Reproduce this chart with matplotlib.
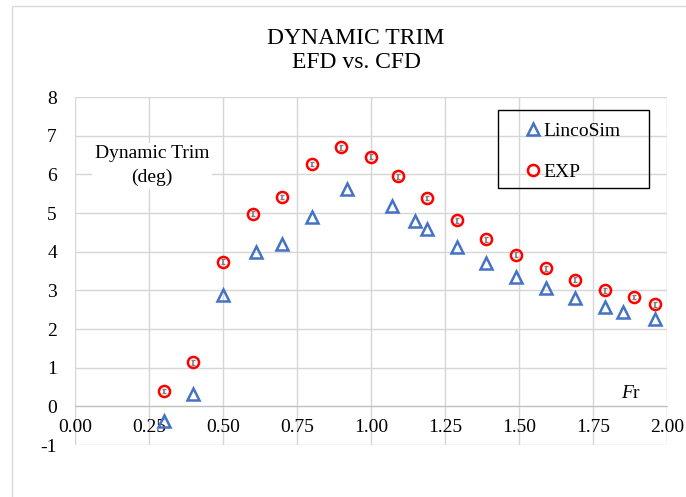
import matplotlib
matplotlib.use("Agg")
import matplotlib.pyplot as plt
from matplotlib.patches import Rectangle

plt.rcParams['font.family'] = ['Liberation Serif', 'DejaVu Serif']
plt.rcParams['axes.unicode_minus'] = False

# LincoSim (CFD) dynamic trim
cfd_fr = [0.30, 0.40, 0.50, 0.61, 0.70, 0.80, 0.92, 1.07, 1.15, 1.19, 1.29,
          1.39, 1.49, 1.59, 1.69, 1.79, 1.85, 1.96]
cfd_trim = [-0.37, 0.33, 2.88, 3.99, 4.19, 4.90, 5.63, 5.19, 4.79, 4.59, 4.12,
            3.71, 3.34, 3.06, 2.79, 2.58, 2.45, 2.26]

# Experimental dynamic trim with small uncertainty bars
exp_fr = [0.30, 0.40, 0.50, 0.60, 0.70, 0.80, 0.90, 1.00, 1.09, 1.19, 1.29,
          1.39, 1.49, 1.59, 1.69, 1.79, 1.89, 1.96]
exp_trim = [0.40, 1.14, 3.74, 4.98, 5.41, 6.27, 6.70, 6.46, 5.95, 5.39, 4.81,
            4.32, 3.92, 3.57, 3.28, 3.00, 2.83, 2.64]
exp_err = [0.06] * len(exp_fr)

x_ticks = [0.00, 0.25, 0.50, 0.75, 1.00, 1.25, 1.50, 1.75, 2.00]
y_ticks = [-1, 0, 1, 2, 3, 4, 5, 6, 7, 8]

W, H = 686, 497
fig = plt.figure(figsize=(W / 100, H / 100), dpi=100)
ax = fig.add_axes([75 / W, 1 - 445 / H, (667 - 75) / W, (445 - 97) / H])

# light chart-area frame
fig.patches.append(Rectangle((12 / W, -0.2), 2.0, 1.2 - 6 / H, transform=fig.transFigure,
                             fill=False, edgecolor='#d9d9d9', lw=1.0, zorder=0))

ax.errorbar(exp_fr, exp_trim, yerr=exp_err, fmt='none', ecolor='#7f7f7f',
            elinewidth=1.2, capsize=1.5, capthick=1.0, zorder=3)
ax.plot(cfd_fr, cfd_trim, linestyle='none', marker='^', markersize=9,
        markerfacecolor='none', markeredgecolor='#4472c4', markeredgewidth=1.8,
        label='LincoSim', zorder=4)
ax.plot(exp_fr, exp_trim, linestyle='none', marker='o', markersize=8,
        markerfacecolor='none', markeredgecolor='#ff0000', markeredgewidth=1.8,
        label='EXP', zorder=4)

ax.set_xlim(0, 2)
ax.set_ylim(-1, 8)
ax.set_xticks(x_ticks)
ax.set_xticklabels([f'{v:.2f}' for v in x_ticks])
ax.set_yticks(y_ticks)
ax.grid(True, color='#d6d6d6', linewidth=1.0)
ax.set_axisbelow(True)
for side in ['top', 'right', 'left']:
    ax.spines[side].set_visible(False)
ax.spines['bottom'].set_position(('data', 0))
ax.spines['bottom'].set_color('#bfbfbf')
ax.tick_params(axis='x', length=0, pad=9, labelsize=14)
ax.tick_params(axis='y', length=0, pad=13, labelsize=14)

# axis titles placed inside the plot
ax.text(0.26, 6.22, 'Dynamic Trim\n(deg)', ha='center', va='center', fontsize=14,
        linespacing=1.5, bbox=dict(facecolor='white', edgecolor='none', pad=2))
t_f = ax.text(1.845, 0.34, 'F', fontsize=14, style='italic', ha='left', va='center')
ax.annotate('r', xy=(1, 0), xycoords=t_f, ha='left', va='bottom', fontsize=14)

fig.text(356 / W, 1 - 38 / H, 'DYNAMIC TRIM', ha='center', va='center', fontsize=17)
fig.text(356 / W, 1 - 63 / H, 'EFD vs. CFD', ha='center', va='center', fontsize=17)

# legend with a separate rectangular frame
ax.legend(loc='upper left', bbox_to_anchor=(525 / W, 1 - 122 / H),
          bbox_transform=fig.transFigure, frameon=False, borderpad=0,
          borderaxespad=0, handlelength=0.8, handletextpad=0.15,
          labelspacing=1.2, fontsize=14, numpoints=1)
fig.patches.append(Rectangle((498 / W, 1 - 188 / H), 151 / W, 78 / H,
                             transform=fig.transFigure, fill=False,
                             edgecolor='black', lw=1.0, zorder=5))

fig.savefig('out.png', dpi=100)
